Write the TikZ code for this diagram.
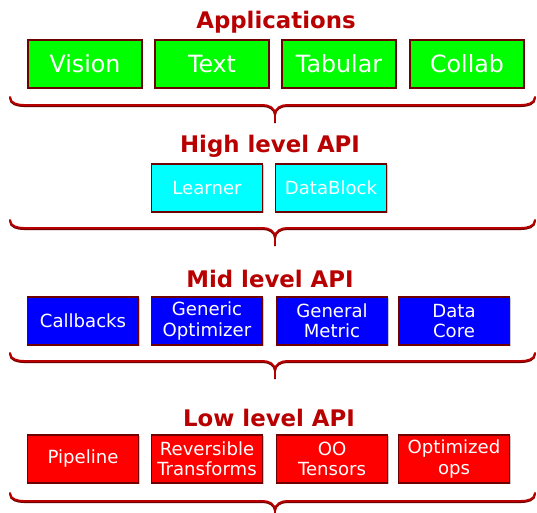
\documentclass[tikz,border=0pt]{standalone}
\usepackage{fontspec}
\setmainfont{DejaVu Sans}
\usepackage{xcolor}
\usetikzlibrary{shadows}
\definecolor{appgreen}{RGB}{0, 255, 0}
\definecolor{highcyan}{RGB}{0, 255, 255}
\definecolor{midblue}{RGB}{0, 0, 255}
\definecolor{lowred}{RGB}{255, 0, 0}
\definecolor{edgered}{RGB}{110, 0, 0}
\definecolor{titlered}{RGB}{185, 0, 0}

\begin{document}
\begin{tikzpicture}[
    x=0.02cm, y=-0.02cm,
    layer/.style={draw=edgered, line width=1pt, fill=#1, minimum width=2.22cm,
                  minimum height=0.96cm, align=center, text=white, inner sep=1pt,
                  font=\fontsize{10.3}{11.5}\selectfont,
                  drop shadow={shadow xshift=0.7pt, shadow yshift=-0.7pt, opacity=0.45}},
    layerL/.style={layer=#1, minimum width=2.28cm, font=\fontsize{13.5}{15}\selectfont},
    hdr/.style={font=\fontsize{13}{15}\selectfont\bfseries, text=titlered},
    bracket/.style={draw=titlered, line width=1.1pt, line cap=round,
                    preaction={draw=edgered, line width=1.1pt, transform canvas={yshift=-0.6pt}}}
]
\useasboundingbox (0,0) rectangle (537,513);

%% -- Applications ------------------------------------------------------
\node[hdr] (apptitle) at (276,22) {Applications};
\node[layerL=appgreen] (vision)  at ( 85,64) {Vision};
\node[layerL=appgreen] (text)    at (212,64) {Text};
\node[layerL=appgreen] (tabular) at (339,64) {Tabular};
\node[layerL=appgreen] (collab)  at (467,64) {Collab};

%% -- High level API ----------------------------------------------------
\node[hdr] (hightitle) at (270,146) {High level API};
\node[layer=highcyan] (learner)   at (207,188) {Learner};
\node[layer=highcyan] (datablock) at (331,188) {DataBlock};

%% -- Mid level API -----------------------------------------------------
\node[hdr] (midtitle) at (270,279) {Mid level API};
\node[layer=midblue] (callbacks) at ( 83,321) {Callbacks};
\node[layer=midblue] (optim)     at (207,321) {Generic\\Optimizer};
\node[layer=midblue] (metric)    at (332,321) {General\\Metric};
\node[layer=midblue] (datacore)  at (454,321) {Data\\Core};

%% -- Low level API -----------------------------------------------------
\node[hdr] (lowtitle) at (269,418) {Low level API};
\node[layer=lowred] (pipeline)   at ( 83,459) {Pipeline};
\node[layer=lowred] (transforms) at (207,459) {Reversible\\Transforms};
\node[layer=lowred] (tensors)    at (332,459) {OO\\Tensors};
\node[layer=lowred] (ops)        at (454,459) {Optimized\\ops};

%% -- Braces under each layer -------------------------------------------
\foreach \y in {97,220,353,493}{
  \draw[bracket] (10,\y) to[out=-90,in=180] (24,\y+8) -- (263,\y+8)
                 to[out=0,in=90] (275,\y+17) -- (275,\y+25);
  \draw[bracket] (275,\y+17) to[out=90,in=180] (287,\y+8) -- (521,\y+8)
                 to[out=0,in=-90] (535,\y);
}
\end{tikzpicture}
\end{document}
